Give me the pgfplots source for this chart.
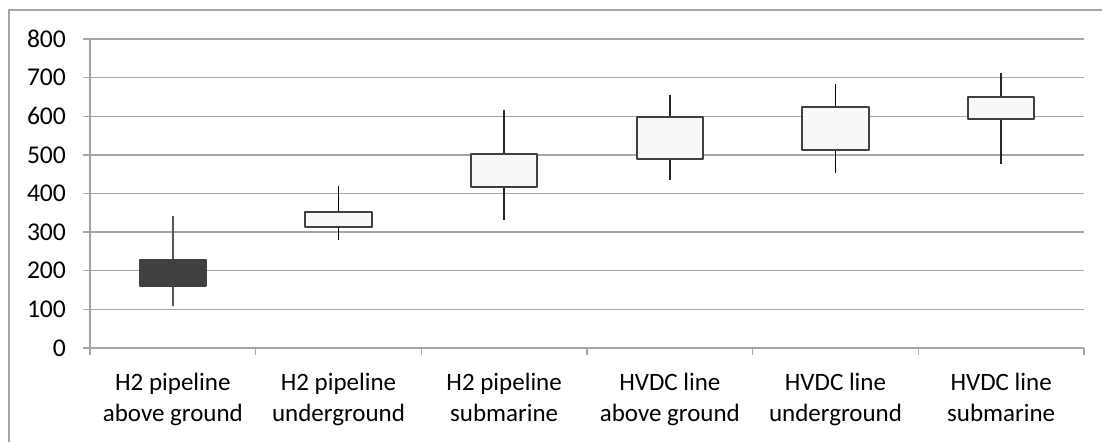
\documentclass[border=0pt]{standalone}
\usepackage{fontspec}
\setmainfont{Carlito}
\usepackage{pgfplots}
\pgfplotsset{compat=1.18}
\definecolor{gridgray}{HTML}{A6A6A6}
\definecolor{boxline}{HTML}{404040}
\definecolor{darkbox}{HTML}{404040}
\definecolor{lightbox}{HTML}{F8F8F8}

\begin{document}
\begin{tikzpicture}
    % picture is 1102x442 px at 0.5pt per px
    \path[use as bounding box] (0,0) rectangle (551pt,-221pt);
    \draw[gridgray, line width=0.6pt] (4.5pt,-222pt) -- (4.5pt,-5pt) -- (552pt,-5pt);

    \begin{axis}[
        at={(45pt,-174pt)}, anchor=south west,
        width=497pt, height=154.5pt,
        scale only axis,
        xmin=0, xmax=6,
        ymin=0, ymax=800,
        ytick={0,100,...,800},
        xtick={0.5,1.5,...,5.5},
        xticklabels={H2 pipeline\\above ground, H2 pipeline\\underground, H2 pipeline\\submarine,
                     HVDC line\\above ground, HVDC line\\underground, HVDC line\\submarine},
        minor xtick={0,1,...,6},
        major x tick style={draw=none},
        minor x tick style={gridgray, line width=0.75pt},
        y tick style={gridgray, line width=0.75pt},
        tick align=outside,
        major tick length=3.5pt,
        minor tick length=3.5pt,
        ymajorgrids,
        grid style={gridgray, line width=0.75pt},
        axis x line*=bottom,
        axis y line*=left,
        axis line style={gridgray, line width=0.75pt},
        tick pos=left,
        /pgf/number format/assume math mode=true,
        yticklabel style={font=\fontsize{12.8}{14}\selectfont, xshift=-5pt},
        xticklabel style={font=\fontsize{12.5}{15.3}\selectfont, align=center, yshift=-5.5pt},
        clip=false,
    ]
    % whiskers (low to high)
    \addplot[draw=black!65, line width=1pt] coordinates {(0.5,109) (0.5,342)};
    \addplot[draw=black, line width=0.75pt] coordinates {(1.5,280) (1.5,420)};
    \addplot[draw=black!85, line width=0.75pt] coordinates {(2.5,332) (2.5,616)};
    \addplot[draw=black!85, line width=0.75pt] coordinates {(3.5,435) (3.5,654)};
    \addplot[draw=black, line width=0.75pt] coordinates {(4.5,454) (4.5,684)};
    \addplot[draw=black!85, line width=0.75pt] coordinates {(5.5,476) (5.5,713)};
    % boxes (lower to upper edge)
    \addplot[draw=boxline, fill=darkbox, line width=1pt, line join=round]
        coordinates {(0.3,161) (0.7,161) (0.7,228) (0.3,228)} -- cycle;
    \addplot[draw=boxline, fill=lightbox, line width=1pt, line join=round]
        coordinates {(1.3,314) (1.7,314) (1.7,351) (1.3,351)} -- cycle;
    \addplot[draw=boxline, fill=lightbox, line width=1pt, line join=round]
        coordinates {(2.3,418) (2.7,418) (2.7,502) (2.3,502)} -- cycle;
    \addplot[draw=boxline, fill=lightbox, line width=1pt, line join=round]
        coordinates {(3.3,490) (3.7,490) (3.7,599) (3.3,599)} -- cycle;
    \addplot[draw=boxline, fill=lightbox, line width=1pt, line join=round]
        coordinates {(4.3,513) (4.7,513) (4.7,625) (4.3,625)} -- cycle;
    \addplot[draw=boxline, fill=lightbox, line width=1pt, line join=round]
        coordinates {(5.3,593) (5.7,593) (5.7,651) (5.3,651)} -- cycle;
    \end{axis}
\end{tikzpicture}
\end{document}
